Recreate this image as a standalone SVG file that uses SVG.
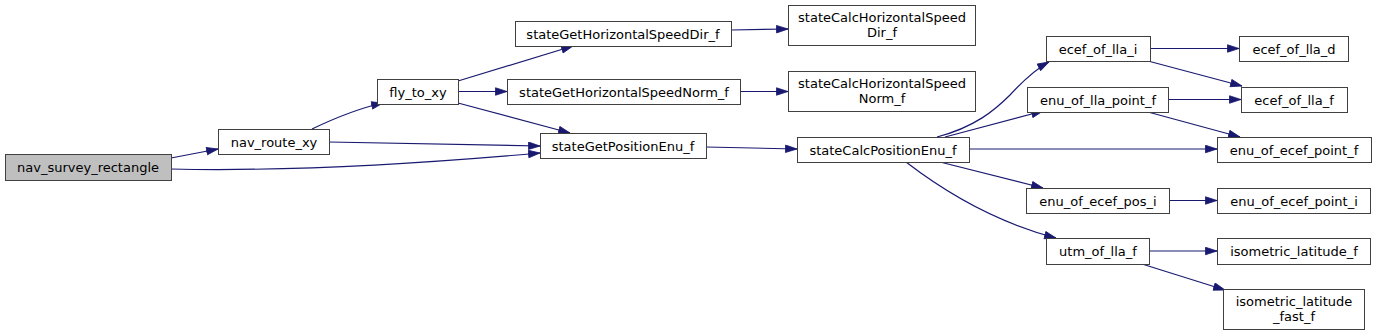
<svg xmlns="http://www.w3.org/2000/svg" width="1376" height="336" viewBox="0 0 1376 336">
<style>
.n rect{fill:#ffffff;stroke:#404040;stroke-width:1}
.n.root rect{fill:#bfbfbf}
.n text{font-family:"DejaVu Sans",sans-serif;font-size:13px;fill:#000;text-anchor:middle}
.e path{fill:none;stroke:#191970;stroke-width:1.2}
</style>
<defs>
<marker id="a" markerUnits="userSpaceOnUse" markerWidth="13" markerHeight="10" refX="12" refY="4.25" orient="auto">
<path d="M0.5,0.5 L12,4.25 L0.5,8 z" fill="#191970" stroke="#191970" stroke-width="0.8"/>
</marker>
</defs>
<rect width="1376" height="336" fill="#ffffff"/>
<g class="e">
<path d="M171,158 L218,149" marker-end="url(#a)"/>
<path d="M171,169 C300,172 450,161 540,153" marker-end="url(#a)"/>
<path d="M312,129 C335,118 360,108 383,103" marker-end="url(#a)"/>
<path d="M329,142 L540,146" marker-end="url(#a)"/>
<path d="M458,81 L573,46" marker-end="url(#a)"/>
<path d="M458,91.5 L507,91.5" marker-end="url(#a)"/>
<path d="M458,103 L570,133" marker-end="url(#a)"/>
<path d="M731,30 L788,29" marker-end="url(#a)"/>
<path d="M740,91.5 L788,91.5" marker-end="url(#a)"/>
<path d="M706,147 L797,149" marker-end="url(#a)"/>
<path d="M937,137 C975,127 995,110 1010,95 C1022,82 1034,70 1049,62" marker-end="url(#a)"/>
<path d="M945,137 L1043,111" marker-end="url(#a)"/>
<path d="M969,149 L1217,149" marker-end="url(#a)"/>
<path d="M940,162 L1043,188" marker-end="url(#a)"/>
<path d="M906,162 C945,192 995,222 1056,238" marker-end="url(#a)"/>
<path d="M1150,48.5 L1239,48.5" marker-end="url(#a)"/>
<path d="M1148,61 L1242,86" marker-end="url(#a)"/>
<path d="M1168,99.5 L1241,99.5" marker-end="url(#a)"/>
<path d="M1148,112 L1240,137" marker-end="url(#a)"/>
<path d="M1169,200.5 L1217,200.5" marker-end="url(#a)"/>
<path d="M1149,251 L1217,251" marker-end="url(#a)"/>
<path d="M1142,264 L1225,290" marker-end="url(#a)"/>
</g>
<g id="nav_survey_rectangle" class="n root"><rect x="5.5" y="154.5" width="166" height="26"/><text x="88" y="172">nav_survey_rectangle</text></g>
<g id="nav_route_xy" class="n"><rect x="218.5" y="129.5" width="111" height="25"/><text x="274" y="146.5">nav_route_xy</text></g>
<g id="fly_to_xy" class="n"><rect x="377.5" y="79.5" width="81" height="25"/><text x="418" y="96.5">fly_to_xy</text></g>
<g id="stateGetHorizontalSpeedDir_f" class="n"><rect x="515.5" y="21.5" width="216" height="25"/><text x="623" y="38.5">stateGetHorizontalSpeedDir_f</text></g>
<g id="stateGetHorizontalSpeedNorm_f" class="n"><rect x="507.5" y="79.5" width="233" height="25"/><text x="624" y="96.5">stateGetHorizontalSpeedNorm_f</text></g>
<g id="stateGetPositionEnu_f" class="n"><rect x="540.5" y="133.5" width="166" height="25"/><text x="623" y="150.5">stateGetPositionEnu_f</text></g>
<g id="stateCalcHorizontalSpeedDir_f" class="n"><rect x="788.5" y="5.5" width="187" height="40"/><text x="882" y="22">stateCalcHorizontalSpeed</text><text x="882" y="37">Dir_f</text></g>
<g id="stateCalcHorizontalSpeedNorm_f" class="n"><rect x="788.5" y="71.5" width="187" height="40"/><text x="882" y="88">stateCalcHorizontalSpeed</text><text x="882" y="103">Norm_f</text></g>
<g id="stateCalcPositionEnu_f" class="n"><rect x="797.5" y="137.5" width="172" height="25"/><text x="883" y="154.5">stateCalcPositionEnu_f</text></g>
<g id="ecef_of_lla_i" class="n"><rect x="1046.5" y="36.5" width="104" height="25"/><text x="1098" y="53.5">ecef_of_lla_i</text></g>
<g id="ecef_of_lla_d" class="n"><rect x="1239.5" y="36.5" width="109" height="25"/><text x="1294" y="53.5">ecef_of_lla_d</text></g>
<g id="enu_of_lla_point_f" class="n"><rect x="1027.5" y="87.5" width="141" height="25"/><text x="1098" y="104.5">enu_of_lla_point_f</text></g>
<g id="ecef_of_lla_f" class="n"><rect x="1241.5" y="87.5" width="106" height="25"/><text x="1294" y="104.5">ecef_of_lla_f</text></g>
<g id="enu_of_ecef_point_f" class="n"><rect x="1217.5" y="137.5" width="154" height="25"/><text x="1294" y="154.5">enu_of_ecef_point_f</text></g>
<g id="enu_of_ecef_pos_i" class="n"><rect x="1026.5" y="188.5" width="143" height="25"/><text x="1098" y="205.5">enu_of_ecef_pos_i</text></g>
<g id="enu_of_ecef_point_i" class="n"><rect x="1217.5" y="188.5" width="153" height="25"/><text x="1294" y="205.5">enu_of_ecef_point_i</text></g>
<g id="utm_of_lla_f" class="n"><rect x="1046.5" y="238.5" width="103" height="26"/><text x="1098" y="256">utm_of_lla_f</text></g>
<g id="isometric_latitude_f" class="n"><rect x="1217.5" y="238.5" width="153" height="26"/><text x="1294" y="256">isometric_latitude_f</text></g>
<g id="isometric_latitude_fast_f" class="n"><rect x="1223.5" y="289.5" width="141" height="40"/><text x="1294" y="306">isometric_latitude</text><text x="1294" y="321">_fast_f</text></g>
</svg>
